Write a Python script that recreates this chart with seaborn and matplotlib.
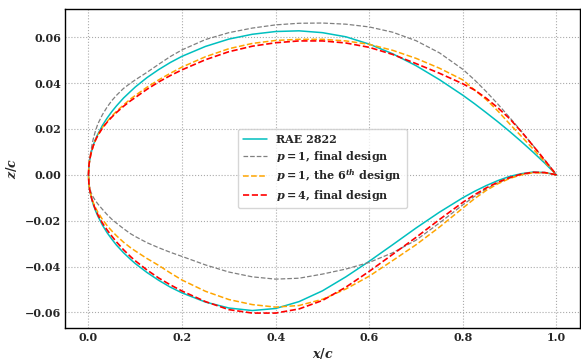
import numpy as np
import pandas as pd
import matplotlib
matplotlib.use("Agg")
import matplotlib.pyplot as plt
import seaborn as sns

# ---- data ----
x_stations = [0.0, 0.001, 0.0025, 0.005, 0.0075, 0.01, 0.015, 0.02, 0.03, 0.04, 0.05,
              0.06, 0.075, 0.09, 0.1, 0.125, 0.15, 0.175, 0.2, 0.25, 0.3, 0.35, 0.4,
              0.45, 0.5, 0.55, 0.6, 0.65, 0.7, 0.75, 0.8, 0.825, 0.85, 0.875, 0.9,
              0.925, 0.95, 0.975, 1.0]

rae_upper = [0.0, 0.0041, 0.0064, 0.0090, 0.0109, 0.0128, 0.0155, 0.0177, 0.0216, 0.0248,
             0.0276, 0.0301, 0.0335, 0.0364, 0.0383, 0.0424, 0.0459, 0.0490, 0.0517, 0.0560,
             0.0592, 0.0613, 0.0625, 0.0628, 0.0620, 0.0602, 0.0570, 0.0528, 0.0476, 0.0415,
             0.0347, 0.0310, 0.0271, 0.0231, 0.0189, 0.0145, 0.0099, 0.0051, 0.0]
rae_lower = [0.0, -0.0041, -0.0064, -0.0090, -0.0110, -0.0128, -0.0156, -0.0180, -0.0220,
             -0.0253, -0.0281, -0.0307, -0.0340, -0.0369, -0.0387, -0.0426, -0.0460, -0.0490,
             -0.0515, -0.0555, -0.0581, -0.0592, -0.0583, -0.0553, -0.0506, -0.0445, -0.0377,
             -0.0305, -0.0232, -0.0163, -0.0100, -0.0072, -0.0047, -0.0025, -0.0007, 0.0005,
             0.0012, 0.0010, 0.0]

p1_final_upper = [0.0, 0.0043, 0.0068, 0.0100, 0.0130, 0.0155, 0.0192, 0.0222, 0.0263, 0.0296,
                  0.0324, 0.0347, 0.0377, 0.0400, 0.0414, 0.0447, 0.0482, 0.0516, 0.0545, 0.0590,
                  0.0620, 0.0640, 0.0654, 0.0661, 0.0662, 0.0657, 0.0645, 0.0622, 0.0585, 0.0532,
                  0.0460, 0.0414, 0.0363, 0.0308, 0.0250, 0.0190, 0.0128, 0.0065, 0.0]
p1_final_lower = [0.0, -0.0035, -0.0054, -0.0074, -0.0087, -0.0097, -0.0113, -0.0127, -0.0151,
                  -0.0174, -0.0194, -0.0211, -0.0235, -0.0257, -0.0269, -0.0296, -0.0318, -0.0338,
                  -0.0356, -0.0393, -0.0424, -0.0445, -0.0455, -0.0451, -0.0433, -0.0411, -0.0382,
                  -0.0340, -0.0285, -0.0210, -0.0131, -0.0094, -0.0062, -0.0035, -0.0014, 0.0001,
                  0.0010, 0.0009, 0.0]

p1_6th_upper = [0.0, 0.0041, 0.0064, 0.0090, 0.0108, 0.0125, 0.0152, 0.0173, 0.0207, 0.0233,
                0.0256, 0.0277, 0.0305, 0.0331, 0.0346, 0.0382, 0.0414, 0.0443, 0.0470, 0.0515,
                0.0550, 0.0573, 0.0586, 0.0591, 0.0591, 0.0584, 0.0569, 0.0543, 0.0508, 0.0465,
                0.0414, 0.0370, 0.0328, 0.0278, 0.0222, 0.0168, 0.0113, 0.0057, 0.0]
p1_6th_lower = [0.0, -0.0041, -0.0063, -0.0087, -0.0105, -0.0120, -0.0143, -0.0163, -0.0195,
                -0.0222, -0.0245, -0.0266, -0.0294, -0.0318, -0.0332, -0.0365, -0.0395, -0.0428,
                -0.0459, -0.0508, -0.0544, -0.0566, -0.0577, -0.0570, -0.0543, -0.0498, -0.0442,
                -0.0374, -0.0305, -0.0228, -0.0145, -0.0104, -0.0068, -0.0039, -0.0016, 0.0000,
                0.0009, 0.0009, 0.0]

p4_final_upper = [0.0, 0.0041, 0.0064, 0.0090, 0.0108, 0.0125, 0.0151, 0.0172, 0.0204, 0.0230,
                  0.0252, 0.0272, 0.0299, 0.0323, 0.0337, 0.0373, 0.0405, 0.0433, 0.0458, 0.0502,
                  0.0537, 0.0561, 0.0576, 0.0584, 0.0584, 0.0575, 0.0556, 0.0525, 0.0485, 0.0443,
                  0.0397, 0.0370, 0.0334, 0.0292, 0.0245, 0.0188, 0.0127, 0.0064, 0.0]
p4_final_lower = [0.0, -0.0041, -0.0064, -0.0089, -0.0108, -0.0125, -0.0151, -0.0174, -0.0211,
                  -0.0241, -0.0268, -0.0293, -0.0327, -0.0357, -0.0375, -0.0415, -0.0450, -0.0480,
                  -0.0507, -0.0553, -0.0588, -0.0603, -0.0603, -0.0585, -0.0548, -0.0490, -0.0421,
                  -0.0347, -0.0273, -0.0195, -0.0120, -0.0087, -0.0057, -0.0032, -0.0012, 0.0003,
                  0.0011, 0.0010, 0.0]

labels = ["RAE 2822",
          r"$p=1$, final design",
          r"$p=1$, the 6$^{th}$ design",
          r"$p=4$, final design"]
colors = ["#00bfbf", "gray", "orange", "red"]
x_ticks = [0.0, 0.2, 0.4, 0.6, 0.8, 1.0]
y_ticks = [-0.06, -0.04, -0.02, 0.0, 0.02, 0.04, 0.06]

# ---- tidy data: one closed contour per design (TE -> LE on lower, LE -> TE on upper)
rows = []
for lab, up, lo in zip(labels,
                       [rae_upper, p1_final_upper, p1_6th_upper, p4_final_upper],
                       [rae_lower, p1_final_lower, p1_6th_lower, p4_final_lower]):
    xs_lo = x_stations[::-1]
    zs_lo = lo[::-1]
    for i, (xx, zz) in enumerate(zip(xs_lo, zs_lo)):
        rows.append((lab, i, xx, zz))
    n = len(xs_lo)
    for j, (xx, zz) in enumerate(zip(x_stations[1:], up[1:])):
        rows.append((lab, n + j, xx, zz))
df = pd.DataFrame(rows, columns=["design", "order", "x", "z"])

# ---- style ----
sns.set_theme(style="whitegrid")
plt.rcParams.update({
    "font.family": ["DejaVu Serif"],
    "font.weight": "bold",
    "axes.labelweight": "bold",
    "mathtext.fontset": "custom",
    "mathtext.rm": "DejaVu Serif:bold",
    "mathtext.it": "DejaVu Serif:bold:italic",
    "mathtext.bf": "DejaVu Serif:bold",
    "font.size": 8,
    "axes.edgecolor": "black",
    "axes.linewidth": 1.0,
})

fig = plt.figure(figsize=(5.81, 3.62), dpi=100)
ax = fig.add_axes([0.112, 0.094, 0.886, 0.881])

styles = {
    labels[0]: dict(lw=1.1, ls="-"),
    labels[1]: dict(lw=0.9, ls="--"),
    labels[2]: dict(lw=1.1, ls="--"),
    labels[3]: dict(lw=1.2, ls="--"),
}
for lab, col in zip(labels, colors):
    sub = df[df["design"] == lab]
    sns.lineplot(data=sub, x="x", y="z", sort=False, estimator=None, color=col,
                 label=lab, ax=ax, **styles[lab])

ax.grid(True, linestyle=":", color="#aaaaaa", linewidth=0.8)
ax.set_xlabel(r"$x/c$", fontsize=9, labelpad=2)
ax.set_ylabel(r"$z/c$", fontsize=9, labelpad=4)
ax.set_xticks(x_ticks)
ax.set_yticks(y_ticks)
ax.set_xticklabels([f"{v:.1f}" for v in x_ticks])
ax.set_yticklabels([f"{v:.2f}".replace("-", "\u2212") if v != 0 else "0.00" for v in y_ticks])
ax.tick_params(axis="both", labelsize=8, length=0, pad=3)
ax.set_xlim(-0.05, 1.05)
ax.set_ylim(-0.0668, 0.0723)
for s in ax.spines.values():
    s.set_color("black")
    s.set_linewidth(1.0)

leg = ax.legend(loc="center", fontsize=8, frameon=True, labelspacing=0.35,
                borderpad=0.45, handlelength=2.2)
leg.get_frame().set_edgecolor("#cccccc")

fig.savefig("out.png", dpi=100)
